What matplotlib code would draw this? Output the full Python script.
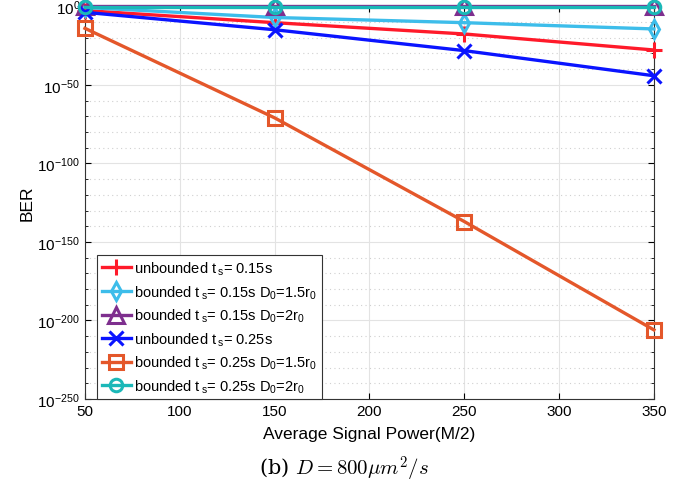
import numpy as np
import matplotlib
matplotlib.use('Agg')
import matplotlib.pyplot as plt
from matplotlib.ticker import FixedLocator, NullFormatter

plt.rcParams['font.family'] = ['Liberation Sans', 'DejaVu Sans']
plt.rcParams['mathtext.fontset'] = 'custom'
plt.rcParams['mathtext.rm'] = 'Liberation Sans'
plt.rcParams['mathtext.it'] = 'Liberation Sans:italic'

# data: exponents of BER
power = [50, 150, 250, 350]
ub_015 = [-2.7, -10.4, -17.6, -27.8]
b_015_15 = [-0.7, -7.1, -10.4, -14.4]
b_015_2 = [0.0, 0.0, 0.0, 0.0]
ub_025 = [-3.8, -14.9, -28.2, -44.2]
b_025_15 = [-14.0, -71.0, -137.0, -206.0]
b_025_2 = [-0.7, -0.7, -0.7, -0.7]

labels = ['unbounded t$\\,_{\\mathrm{s}}$= 0.15s',
          'bounded t$\\,_{\\mathrm{s}}$= 0.15s D$_{0}$=1.5r$_{0}$',
          'bounded t$\\,_{\\mathrm{s}}$= 0.15s D$_{0}$=2r$_{0}$',
          'unbounded t$\\,_{\\mathrm{s}}$= 0.25s',
          'bounded t$\\,_{\\mathrm{s}}$= 0.25s D$_{0}$=1.5r$_{0}$',
          'bounded t$\\,_{\\mathrm{s}}$= 0.25s D$_{0}$=2r$_{0}$']
series = [ub_015, b_015_15, b_015_2, ub_025, b_025_15, b_025_2]
colors = ['#ff1a2a', '#3dbdea', '#7e2f8e', '#0a14ff', '#e4572a', '#1bb8b8']
markers = ['+', 'd', '^', 'x', 's', 'o']
msizes = [12, 9, 12, 10, 10, 9]

fig = plt.figure(figsize=(6.88, 4.89), dpi=100)
ax = fig.add_axes([0.1235, 0.182, 0.827, 0.803])

for s, lab, c, m, ms in zip(series, labels, colors, markers, msizes):
    ax.semilogy(power, [10.0**e for e in s], color=c, marker=m, ms=ms,
                mfc='none', mew=2.2, lw=2.4, label=lab, clip_on=False, zorder=3)

ax.set_xlim(50, 350)
ax.set_ylim(1e-250, 1e0)
ax.set_xticks([50, 100, 150, 200, 250, 300, 350])
ax.yaxis.set_major_locator(FixedLocator([10.0**e for e in range(-250, 1, 50)]))
ax.set_yticklabels(['$10^{%d}$' % e for e in range(-250, 1, 50)])
ax.yaxis.set_minor_locator(FixedLocator([10.0**e for e in range(-250, 1, 10) if e % 50 != 0]))
ax.yaxis.set_minor_formatter(NullFormatter())
ax.tick_params(which='both', direction='in', top=True, right=True, labelsize=11)
ax.tick_params(which='major', length=4)
ax.tick_params(which='minor', length=2)
ax.grid(True, which='major', color='#e3e3e3', lw=0.8)
ax.grid(True, which='minor', axis='y', color='#d0d0d0', lw=0.8, ls=(0, (1, 3)))
ax.set_axisbelow(True)
for sp in ax.spines.values():
    sp.set_color('#333333')

ax.set_xlabel('Average Signal Power(M/2)', fontsize=12.5, labelpad=6)
ax.set_ylabel('BER', fontsize=12.5, labelpad=2)

leg = ax.legend(loc='lower left', bbox_to_anchor=(0.022, 0.0), fontsize=10.5,
                fancybox=False, edgecolor='#333333', framealpha=1,
                handlelength=2.0, handletextpad=0.2, labelspacing=0.42,
                borderpad=0.3, borderaxespad=0.0)
leg.get_frame().set_linewidth(0.8)

fig.text(0.5, 0.028, '(b) $D = 800\\mu m^2/s$', ha='center', fontsize=15,
         family='DejaVu Serif', math_fontfamily='cm')

fig.savefig('out.png', dpi=100)
